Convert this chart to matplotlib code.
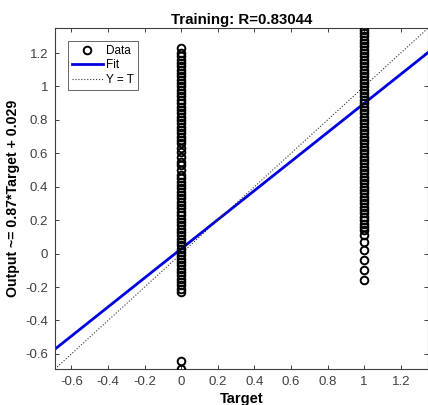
import matplotlib.pyplot as plt

plt.rcParams['font.family'] = ['Liberation Sans', 'DejaVu Sans']

# regression summary
slope = 0.87
intercept = 0.029
r_value = 0.83044
lims = [-0.69, 1.35]

# outputs, target = 0
out_t0 = [-0.69, -0.64,
          -0.23, -0.21, -0.19, -0.17, -0.15, -0.13, -0.11, -0.09, -0.07, -0.05,
          -0.03, -0.01, 0.01, 0.03, 0.05, 0.07, 0.09, 0.11, 0.13, 0.15,
          0.17, 0.19, 0.21, 0.23, 0.25, 0.27, 0.29, 0.31, 0.33, 0.35,
          0.37, 0.39, 0.41, 0.43, 0.45, 0.47, 0.50, 0.53, 0.55, 0.58,
          0.61, 0.63, 0.66, 0.68, 0.70, 0.72, 0.74, 0.76, 0.78, 0.80,
          0.82, 0.84, 0.86, 0.88, 0.90, 0.92, 0.94, 0.96, 0.98, 1.00,
          1.02, 1.04, 1.06, 1.08, 1.10, 1.12, 1.14, 1.16, 1.18, 1.20,
          1.23]

# outputs, target = 1
out_t1 = [-0.16, -0.10, -0.04, 0.02, 0.07, 0.11,
          0.14, 0.16, 0.18, 0.20, 0.22, 0.24, 0.26, 0.28, 0.30, 0.32,
          0.34, 0.36, 0.38, 0.40, 0.42, 0.44, 0.46, 0.48, 0.50, 0.52,
          0.54, 0.56, 0.58, 0.60, 0.62, 0.64, 0.66, 0.68, 0.70, 0.72,
          0.74, 0.76, 0.78, 0.80, 0.82, 0.84, 0.86, 0.88, 0.90, 0.92,
          0.94, 0.96, 0.98, 1.00, 1.02, 1.04, 1.06, 1.08, 1.10, 1.12,
          1.14, 1.16, 1.18, 1.20, 1.22, 1.24, 1.26, 1.28, 1.30, 1.32,
          1.34]

targets = [0] * len(out_t0) + [1] * len(out_t1)
outputs = out_t0 + out_t1

fig = plt.figure(figsize=(4.28, 4.05), dpi=100)
ax = fig.add_axes([0.1285, 0.089, 0.872, 0.842])

ax.plot(targets, outputs, 'o', mfc='none', mec='black', ms=5.5, mew=1.4,
        label='Data', zorder=3)
fit_y = [slope * v + intercept for v in lims]
ax.plot(lims, fit_y, '-', color='#0000e0', lw=2, label='Fit', zorder=2)
ax.plot(lims, lims, ':', color='#333333', lw=0.8, label='Y = T', zorder=2)

ax.set_xlim(lims)
ax.set_ylim(lims)
ticks = [-0.6, -0.4, -0.2, 0, 0.2, 0.4, 0.6, 0.8, 1, 1.2]
tick_labels = ['-0.6', '-0.4', '-0.2', '0', '0.2', '0.4', '0.6', '0.8', '1', '1.2']
ax.set_xticks(ticks)
ax.set_xticklabels(tick_labels)
ax.set_yticks(ticks)
ax.set_yticklabels(tick_labels)
ax.tick_params(direction='in', top=True, right=True, length=3, pad=5,
               labelsize=9.5, colors='#404040', labelcolor='#404040', width=0.7)
for s in ax.spines.values():
    s.set_color('#404040')
    s.set_linewidth(0.8)

ax.set_title('Training: R=%.5f' % r_value, fontsize=10.8, fontweight='bold', pad=3)
ax.set_xlabel('Target', fontsize=10.5, fontweight='bold', labelpad=3)
ax.set_ylabel('Output ~= %.2f*Target + %.3f' % (slope, intercept),
              fontsize=10.2, fontweight='bold', labelpad=4)

leg = ax.legend(loc='upper left', fontsize=8.5, frameon=True, fancybox=False,
                edgecolor='#404040', borderpad=0.35, handlelength=2.6,
                labelspacing=0.2, handletextpad=0.3, borderaxespad=1.1)
leg.get_frame().set_linewidth(0.7)

fig.savefig('out.png', dpi=100)
